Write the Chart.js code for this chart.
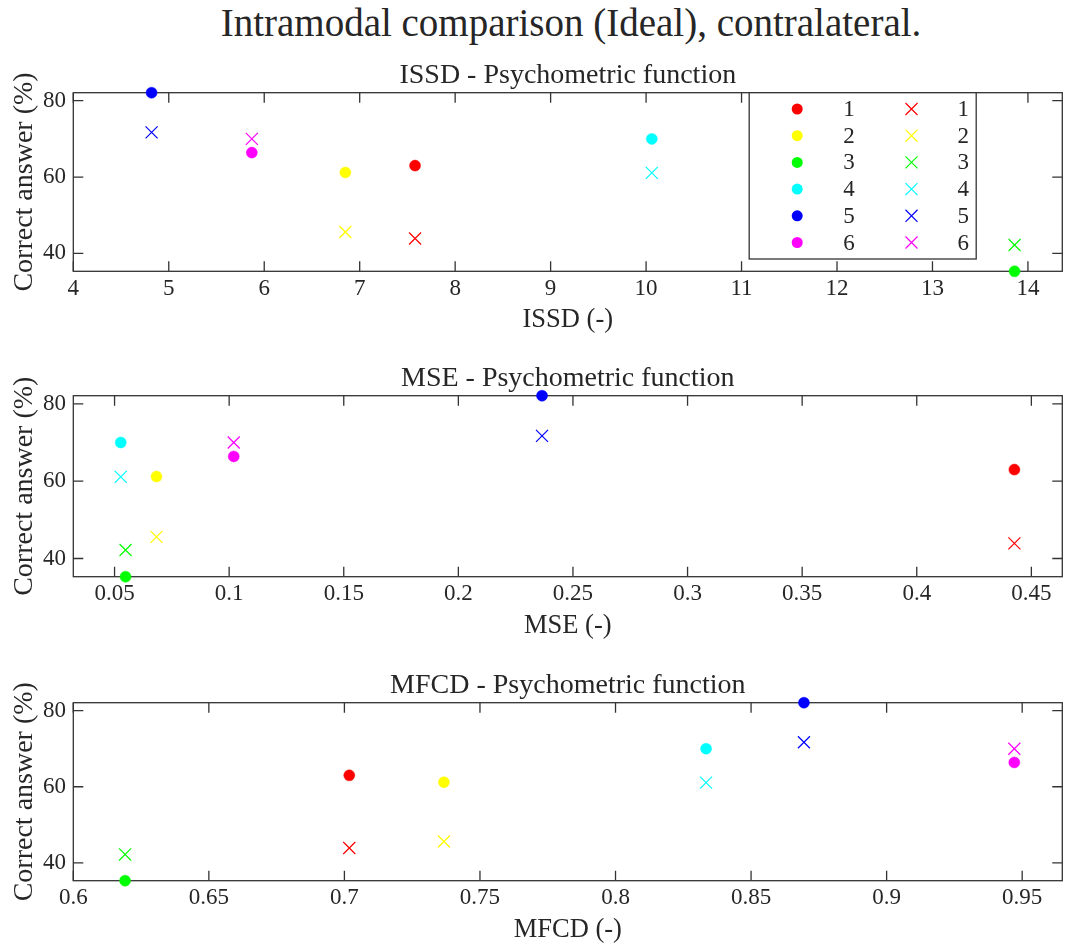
<!DOCTYPE html>
<html>
<head>
<meta charset="utf-8">
<title>Intramodal comparison (Ideal), contralateral.</title>
<script src="https://cdn.jsdelivr.net/npm/chart.js@4.4.1/dist/chart.umd.min.js"></script>
<style>
  html, body { margin: 0; padding: 0; background: #ffffff; }
  #page { position: relative; width: 1072px; height: 949px; overflow: hidden; background: #ffffff; }
  #mainTitle {
    position: absolute; left: 73px; width: 996px; top: 3px;
    text-align: center; font-family: 'Liberation Serif', serif;
    font-size: 39px; line-height: 39px; color: #262626; white-space: nowrap;
  }
  canvas { position: absolute; left: 0; }
</style>
</head>
<body>
<div id="page">
  <div id="mainTitle">Intramodal comparison (Ideal), contralateral.</div>
  <canvas id="issdChart"></canvas>
  <canvas id="mseChart"></canvas>
  <canvas id="mfcdChart"></canvas>
</div>
<script>
// Subjects and their marker colours
const subjects = ['1', '2', '3', '4', '5', '6'];
const subjectColors = ['#ff0000', '#ffff00', '#00ff00', '#00ffff', '#0000ff', '#ff00ff'];

// Correct answers (%) per subject: filled circles and crosses
const scoreCircle = [63.0, 61.2, 35.3, 70.0, 82.1, 66.4];
const scoreCross  = [43.9, 45.6, 42.2, 61.1, 71.7, 70.0];

// Distance measures per subject
const issdValues = [7.58, 6.85, 13.86, 10.06, 4.82, 5.87];
const mseValues  = [0.4426, 0.0683, 0.0548, 0.0527, 0.2365, 0.102];
const mfcdValues = [0.7018, 0.7367, 0.6191, 0.8334, 0.8695, 0.9471];

// Tick values
const yTicks    = [40, 60, 80];
const issdTicks = [4, 5, 6, 7, 8, 9, 10, 11, 12, 13, 14];
const mseTicks  = [0.05, 0.1, 0.15, 0.2, 0.25, 0.3, 0.35, 0.4, 0.45];
const mfcdTicks = [0.6, 0.65, 0.7, 0.75, 0.8, 0.85, 0.9, 0.95];

// Axis limits
const yRange    = [35.3, 82.1];
const issdRange = [4, 14.36];
const mseRange  = [0.032, 0.4635];
const mfcdRange = [0.6, 0.9648];

const FONT = "'Liberation Serif', serif";
const INK = '#262626';
const FRAME = '#333333';
const TICK_LEN = 10;
const TICK_FONT = 23;
const AREA_LEFT = 73.3, AREA_RIGHT = 1068.7;

Chart.defaults.font.family = FONT;
Chart.defaults.color = INK;

// Box around the axes with inward tick marks on all four sides
const framePlugin = {
  id: 'frame',
  beforeDatasetsDraw(chart) {
    const { ctx, chartArea: a, scales } = chart;
    const xs = scales.x, ys = scales.y;
    ctx.save();
    ctx.strokeStyle = FRAME;
    ctx.lineWidth = 1.3;
    ctx.strokeRect(a.left, a.top, a.right - a.left, a.bottom - a.top);
    ctx.beginPath();
    xs.ticks.forEach(t => {
      const px = xs.getPixelForValue(t.value);
      ctx.moveTo(px, a.bottom); ctx.lineTo(px, a.bottom - TICK_LEN);
      ctx.moveTo(px, a.top); ctx.lineTo(px, a.top + TICK_LEN);
    });
    ys.ticks.forEach(t => {
      const py = ys.getPixelForValue(t.value);
      ctx.moveTo(a.left, py); ctx.lineTo(a.left + TICK_LEN, py);
      ctx.moveTo(a.right, py); ctx.lineTo(a.right - TICK_LEN, py);
    });
    ctx.stroke();
    ctx.restore();
  }
};

// Two-column legend (circles | crosses) in the upper right of the axes
const gridLegendPlugin = {
  id: 'gridLegend',
  afterDatasetsDraw(chart, args, opts) {
    if (!opts || !opts.display) return;
    const { ctx, chartArea: a } = chart;
    const left = a.right - 313.1, top = a.top, w = 227, h = 166.3;
    ctx.save();
    ctx.fillStyle = '#ffffff';
    ctx.fillRect(left, top, w, h);
    ctx.strokeStyle = FRAME;
    ctx.lineWidth = 1.3;
    ctx.strokeRect(left, top, w, h);
    ctx.font = TICK_FONT + 'px ' + FONT;
    ctx.textAlign = 'center';
    ctx.textBaseline = 'middle';
    const n = subjects.length;
    chart.data.datasets.forEach((ds, k) => {
      const col = k < n ? 0 : 1;
      const row = k % n;
      const cy = top + 16.3 + row * 26.7;
      const mx = left + (col === 0 ? 48 : 162.3);
      const lx = left + (col === 0 ? 99.7 : 214);
      if (ds.pointStyle === 'circle') {
        ctx.beginPath();
        ctx.arc(mx, cy, ds.pointRadius, 0, Math.PI * 2);
        ctx.fillStyle = ds.pointBackgroundColor;
        ctx.fill();
      } else {
        const d = ds.pointRadius * Math.SQRT1_2;
        ctx.beginPath();
        ctx.moveTo(mx - d, cy - d); ctx.lineTo(mx + d, cy + d);
        ctx.moveTo(mx + d, cy - d); ctx.lineTo(mx - d, cy + d);
        ctx.strokeStyle = ds.pointBorderColor;
        ctx.lineWidth = ds.pointBorderWidth;
        ctx.stroke();
      }
      ctx.fillStyle = INK;
      ctx.fillText(ds.label, lx, cy + 1);
    });
    ctx.restore();
  }
};

function fmt(v) { return String(Math.round(v * 1000) / 1000); }

function buildDatasets(xValues) {
  const out = [];
  subjects.forEach((s, i) => out.push({
    label: s,
    data: [{ x: xValues[i], y: scoreCircle[i] }],
    pointStyle: 'circle', pointRadius: 5.5,
    pointBackgroundColor: subjectColors[i], pointBorderColor: subjectColors[i],
    pointBorderWidth: 0.5, showLine: false, clip: false
  }));
  subjects.forEach((s, i) => out.push({
    label: s,
    data: [{ x: xValues[i], y: scoreCross[i] }],
    pointStyle: 'crossRot', pointRadius: 8.5,
    pointBackgroundColor: subjectColors[i], pointBorderColor: subjectColors[i],
    pointBorderWidth: 1.2, showLine: false, clip: false
  }));
  return out;
}

// One panel with its plotting area at [AREA_LEFT, AREA_RIGHT] x [areaTop, areaBottom]
function panel(id, areaTop, areaBottom, xValues, xRange, xTicks, xTitle, title, withLegend) {
  const canvas = document.getElementById(id);
  const canvasTop = Math.round(areaTop - 45);
  const height = Math.round(areaBottom - canvasTop + 70);
  const X_AXIS_H = 68;
  const TITLE_SIZE = 28;
  canvas.width = 1072; canvas.height = height;
  canvas.style.top = canvasTop + 'px';
  canvas.style.width = '1072px'; canvas.style.height = height + 'px';

  const titleBlock = TITLE_SIZE * 1.2 + 0.2;
  new Chart(canvas, {
    type: 'scatter',
    data: { datasets: buildDatasets(xValues) },
    options: {
      responsive: false,
      animation: false,
      events: [],
      layout: {
        padding: {
          left: 0,
          right: 1072 - AREA_RIGHT,
          top: (areaTop - canvasTop) - titleBlock,
          bottom: height - (areaBottom - canvasTop) - X_AXIS_H
        }
      },
      plugins: {
        legend: { display: false },
        tooltip: { enabled: false },
        title: {
          display: true, text: title, color: INK, fullSize: false,
          font: { family: FONT, size: TITLE_SIZE, weight: 'normal', lineHeight: 1.2 },
          padding: { top: 0, bottom: 0.2 }
        },
        gridLegend: { display: withLegend }
      },
      scales: {
        x: {
          type: 'linear', min: xRange[0], max: xRange[1],
          grid: { display: false, drawTicks: false },
          border: { display: false },
          afterBuildTicks: s => { s.ticks = xTicks.map(v => ({ value: v })); },
          afterFit: s => { s.height = X_AXIS_H; s.paddingLeft = 0; s.paddingRight = 0; },
          ticks: { padding: 3.5, color: INK, font: { size: TICK_FONT, lineHeight: 1.2 }, maxRotation: 0, autoSkip: false, callback: v => fmt(v) },
          title: { display: true, text: xTitle, color: INK, font: { size: 26.5, lineHeight: 1.2 }, padding: { top: 0, bottom: 3.1 } }
        },
        y: {
          type: 'linear', min: yRange[0], max: yRange[1],
          grid: { display: false, drawTicks: false },
          border: { display: false },
          afterBuildTicks: s => { s.ticks = yTicks.map(v => ({ value: v })); },
          afterFit: s => { s.width = AREA_LEFT; s.paddingTop = 0; s.paddingBottom = 0; },
          ticks: { padding: 7.3, color: INK, font: { size: TICK_FONT, lineHeight: 1.2 }, callback: v => fmt(v) },
          title: { display: true, text: 'Correct answer (%)', color: INK, font: { size: 28, lineHeight: 1.2 }, padding: { top: 7.7, bottom: 0 } }
        }
      }
    },
    plugins: [framePlugin, gridLegendPlugin]
  });
}

panel('issdChart', 92.7, 271.3, issdValues, issdRange, issdTicks, 'ISSD (-)', 'ISSD - Psychometric function', true);
panel('mseChart', 395.7, 576.7, mseValues, mseRange, mseTicks, 'MSE (-)', 'MSE - Psychometric function', false);
panel('mfcdChart', 702.7, 880.7, mfcdValues, mfcdRange, mfcdTicks, 'MFCD (-)', 'MFCD - Psychometric function', false);
</script>
</body>
</html>
